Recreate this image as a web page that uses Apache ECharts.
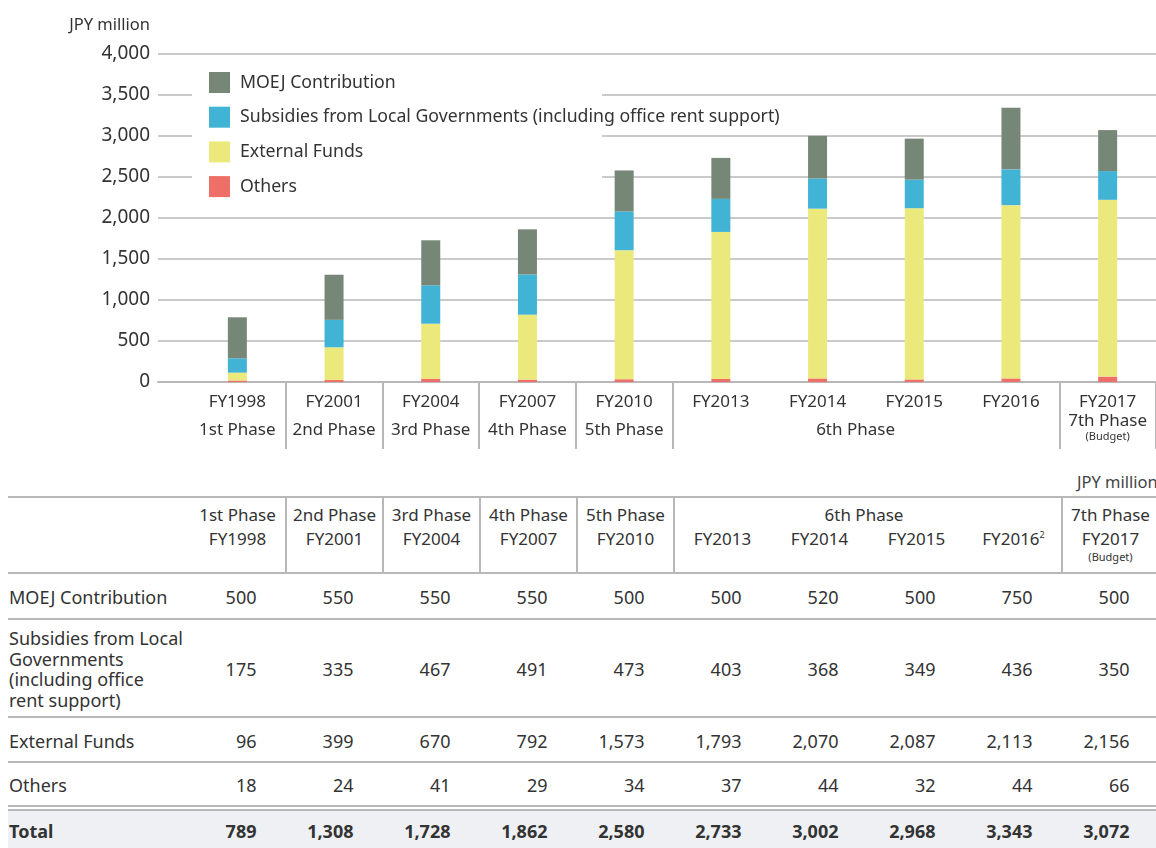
<!DOCTYPE html>
<html><head><meta charset="utf-8">
<script src="https://cdn.jsdelivr.net/npm/echarts@6/dist/echarts.min.js"></script>
<style>
html,body{margin:0;padding:0;background:#fff;width:1156px;height:848px;overflow:hidden;font-family:"Noto Sans",sans-serif;color:#333}
#chart{position:absolute;left:0;top:0;width:1156px;height:460px}
.t{position:absolute;white-space:nowrap;color:#333}
.hl{position:absolute;left:8px;right:0;height:0;border-top:2px solid #b8b8b8}
.vl{position:absolute;width:0;border-left:2px solid #b8b8b8}
.bg{position:absolute;left:8px;right:0;background:#eef0f3}
</style></head><body>
<div id="chart"></div>
<script>
// ---- data ----
const categories = ['FY1998','FY2001','FY2004','FY2007','FY2010','FY2013','FY2014','FY2015','FY2016','FY2017'];
const phases = ['1st Phase','2nd Phase','3rd Phase','4th Phase','5th Phase','6th Phase','6th Phase','6th Phase','6th Phase','7th Phase'];
const budgetNotes = ['','','','','','','','','','(Budget)'];
const footnotes = ['','','','','','','','','2',''];
const moej = [500,550,550,550,500,500,520,500,750,500];
const subsidies = [175,335,467,491,473,403,368,349,436,350];
const external = [96,399,670,792,1573,1793,2070,2087,2113,2156];
const others = [18,24,41,29,34,37,44,32,44,66];
const totals = [789,1308,1728,1862,2580,2733,3002,2968,3343,3072];
const yTicks = [0,500,1000,1500,2000,2500,3000,3500,4000];
const unitLabel = 'JPY million';
const seriesNames = ['MOEJ Contribution','Subsidies from Local Governments (including office rent support)','External Funds','Others'];
const tableRowLabels = ['MOEJ Contribution','Subsidies from Local\nGovernments\n(including office\nrent support)','External Funds','Others','Total'];

// ---- chart ----
const FONT = '"Noto Sans", sans-serif';
const TXT = '#333';
const LINE = '#b8b8b8';
const isBoundary = i => i > 0 && phases[i] !== phases[i-1];
const colors = {moej:'#768777', sub:'#41b3d5', ext:'#ece97c', oth:'#ee6f67'};

function phaseGroup(i){
  const p = phases[i];
  return phases.map((q,k)=>q===p?k:-1).filter(k=>k>=0);
}
function xLabel(value, index){
  const g = phaseGroup(index);
  const fy = '{fy|' + value + '}';
  if (g.length === 1) {
    if (budgetNotes[index]) return fy + '\n{p7|' + phases[index] + '}\n{b|' + budgetNotes[index] + '}';
    return fy + '\n{ph|' + phases[index] + '}';
  }
  const mid = g[Math.floor((g.length - 1) / 2)];
  if (index === mid) return fy + '\n{p6|' + phases[index] + '}';
  return fy;
}

const chart = echarts.init(document.getElementById('chart'), null, {renderer:'canvas'});
const option = {
  animation:false,
  textStyle:{fontFamily:FONT},
  grid:[
    {left:158, right:0, top:54, height:328},
    {left:189, width:970, top:54, height:328}
  ],
  graphic:[
    {type:'rect', left:192, top:62, z:1, silent:true,
     shape:{width:410, height:143}, style:{fill:'#ffffff'}}
  ],
  legend:{
    orient:'vertical', left:192, top:63,
    padding:[9,8,10,17],
    itemWidth:21, itemHeight:21, itemGap:13.7,
    icon:'rect',
    data:seriesNames,
    textStyle:{fontSize:17.7, color:TXT, fontFamily:FONT, padding:[0,0,0,5]}
  },
  xAxis:[
    {gridIndex:0, type:'category', data:categories, position:'bottom', offset:67,
     axisLine:{show:true, lineStyle:{color:LINE, width:2}}, axisTick:{show:false}, axisLabel:{show:false}},
    {gridIndex:1, type:'category', data:categories,
     axisLine:{show:false},
     axisTick:{show:true, length:67, interval:(i)=>isBoundary(i), lineStyle:{color:LINE, width:2}},
     axisLabel:{interval:0, margin:6, formatter:xLabel, color:TXT,
       rich:{
         fy:{fontSize:17, lineHeight:28, color:TXT, fontFamily:FONT},
         ph:{fontSize:17, lineHeight:28, color:TXT, fontFamily:FONT},
         p6:{fontSize:17, lineHeight:28, color:TXT, fontFamily:FONT, padding:[0,0,0,76]},
         p7:{fontSize:17, lineHeight:10, color:TXT, fontFamily:FONT},
         b:{fontSize:11, lineHeight:22, color:TXT, fontFamily:FONT}
       }}
    }
  ],
  yAxis:[
    {gridIndex:0, type:'value', min:0, max:4000, interval:500,
     name:unitLabel, nameLocation:'end', nameGap:20,
     nameTextStyle:{fontSize:16.5, color:TXT, align:'right', padding:[0,8,0,0], fontFamily:FONT},
     axisLabel:{fontSize:19, color:TXT, margin:8, formatter:v=>v.toLocaleString('en-US')},
     splitLine:{lineStyle:{color:LINE, width:1.5}},
     axisLine:{show:false}, axisTick:{show:false}},
    {gridIndex:1, type:'value', min:0, max:4000, interval:500, show:false, splitLine:{show:false}}
  ],
  series:[
    {name:seriesNames[3], type:'bar', stack:'t', xAxisIndex:1, yAxisIndex:1, barWidth:19, z:2, data:others, itemStyle:{color:colors.oth}},
    {name:seriesNames[2], type:'bar', stack:'t', xAxisIndex:1, yAxisIndex:1, barWidth:19, z:2, data:external, itemStyle:{color:colors.ext}},
    {name:seriesNames[1], type:'bar', stack:'t', xAxisIndex:1, yAxisIndex:1, barWidth:19, z:2, data:subsidies, itemStyle:{color:colors.sub}},
    {name:seriesNames[0], type:'bar', stack:'t', xAxisIndex:1, yAxisIndex:1, barWidth:19, z:2, data:moej, itemStyle:{color:colors.moej}}
  ]
};
chart.setOption(option);

// ---- data table (HTML) ----
const COL0 = 189, COLW = 97;
function addEl(cls, css, html){
  const d = document.createElement('div');
  d.className = cls; Object.assign(d.style, css);
  if (html !== undefined) d.innerHTML = html;
  document.body.appendChild(d); return d;
}
function text(str, cx, cy, size, opts={}){
  const lh = opts.lh || Math.round(size*1.3);
  const css = {top:(cy - lh/2)+'px', fontSize:size+'px', lineHeight:lh+'px'};
  if (opts.weight) css.fontWeight = opts.weight;
  if (opts.align === 'right') { css.left = (cx - 300)+'px'; css.width='300px'; css.textAlign='right'; }
  else if (opts.align === 'left') { css.left = cx+'px'; }
  else { css.left = (cx - 150)+'px'; css.width='300px'; css.textAlign='center'; }
  if (opts.color) css.color = opts.color;
  return addEl('t', css, str);
}
text(unitLabel, 1077, 481, 16.5, {align:'left', color:'#444'});
addEl('bg', {top:'811px', height:'37px'});
[497, 573, 619, 717, 762, 806, 810].forEach(y => addEl('hl', {top:(y-1)+'px'}));
categories.forEach((c,i) => { if (isBoundary(i)) addEl('vl', {left:(COL0 + COLW*i - 1)+'px', top:'497px', height:'76px'}); });
const done = {};
categories.forEach((c,i) => {
  const cx = COL0 + COLW*i + COLW/2;
  const g = phaseGroup(i);
  const sup = footnotes[i] ? '<sup style="font-size:9px;vertical-align:7px;line-height:0">'+footnotes[i]+'</sup>' : '';
  if (g.length === 1) {
    text(phases[i], cx, 515, 17);
    text(c + sup, cx, 539, 17);
    if (budgetNotes[i]) text(budgetNotes[i], cx, 557, 11);
  } else {
    if (!done[phases[i]]) {
      done[phases[i]] = 1;
      const gx = (COL0 + COLW*g[0] + COL0 + COLW*(g[g.length-1]+1)) / 2 - 4;
      text(phases[i], gx, 515, 17);
    }
    text(c + sup, cx, 539, 17);
  }
});
const rowValues = [moej, subsidies, external, others, totals];
const rowCenters = [597, 669, 741, 785, 831];
rowValues.forEach((vals, r) => {
  const bold = r === 4 ? 700 : null;
  const lbl = tableRowLabels[r].split('\n');
  if (lbl.length === 1) text(lbl[0], 9, rowCenters[r], 18, {align:'left', weight:bold});
  else {
    const lh = 20.5;
    lbl.forEach((s,k) => text(s, 9, rowCenters[r] - (lbl.length-1)*lh/2 + k*lh, 18, {align:'left', lh:lh}));
  }
  vals.forEach((v,i) => {
    const right = COL0 + COLW*i + COLW/2 + 19;
    text(v.toLocaleString('en-US'), right, rowCenters[r], 18, {align:'right', weight:bold});
  });
});
</script>
</body></html>
